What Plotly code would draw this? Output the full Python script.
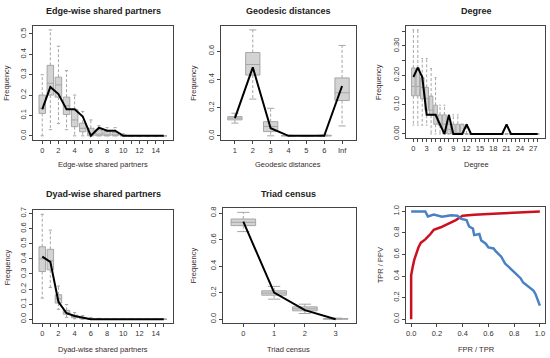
import plotly.graph_objects as go

W, H = 550, 358

# ---------------- data ----------------
# Edge-wise shared partners (0..15)
esp_x = list(range(16))
esp_q1 = [0.11, 0.20, 0.19, 0.105, 0.045, 0.02, 0.0, 0.0, 0.0, 0.0, 0, 0, 0, 0, 0, 0]
esp_med = [0.135, 0.258, 0.25, 0.147, 0.078, 0.037, 0.01, 0.008, 0.004, 0.002, 0, 0, 0, 0, 0, 0]
esp_q3 = [0.20, 0.346, 0.288, 0.19, 0.13, 0.062, 0.037, 0.03, 0.02, 0.016, 0.004, 0, 0, 0, 0, 0]
esp_lo = [0.0, 0.03, 0.06, 0.03, 0.0, 0, 0, 0, 0, 0, 0, 0, 0, 0, 0, 0]
esp_hi = [0.30, 0.52, 0.44, 0.32, 0.20, 0.12, 0.078, 0.05, 0.04, 0.04, 0.01, 0, 0, 0, 0, 0]
esp_obs = [0.13, 0.24, 0.205, 0.13, 0.13, 0.095, 0.0, 0.04, 0.025, 0.025, 0, 0, 0, 0, 0, 0]

# Geodesic distances
geo_labels = ["1", "2", "3", "4", "5", "6", "Inf"]
geo_x = [1, 2, 3, 4, 5, 6, 7]
geo_q1 = [0.113, 0.43, 0.03, 0, 0, 0, 0.25]
geo_med = [0.125, 0.505, 0.066, 0, 0, 0, 0.305]
geo_q3 = [0.136, 0.59, 0.10, 0.002, 0, 0.004, 0.41]
geo_lo = [0.09, 0.26, 0.0, 0, 0, 0, 0.07]
geo_hi = [0.16, 0.75, 0.195, 0.004, 0, 0.006, 0.64]
geo_obs = [0.125, 0.485, 0.054, 0, 0, 0, 0.353]

# Degree (0..28)
deg_x = list(range(29))
deg_q1 = [0.13, 0.13, 0.12, 0.081, 0.064, 0.033, 0.03, 0, 0, 0, 0, 0, 0] + [0] * 16
deg_med = [0.162, 0.162, 0.159, 0.12, 0.081, 0.065, 0.033, 0.033, 0.015, 0, 0, 0, 0] + [0] * 16
deg_q3 = [0.225, 0.225, 0.192, 0.159, 0.129, 0.098, 0.065, 0.065, 0.033, 0.033, 0.033, 0.033, 0.0] + [0] * 16
deg_lo = [0.03, 0.03, 0.03, 0.03, 0, 0, 0, 0, 0, 0, 0, 0, 0] + [0] * 16
deg_hi = [0.355, 0.355, 0.257, 0.257, 0.223, 0.192, 0.098, 0.098, 0.065, 0.065, 0.065, 0.033, 0.033] + [0] * 16
deg_obs = [0.194, 0.226, 0.194, 0.065, 0.065, 0.065, 0.032, 0, 0.065, 0, 0, 0, 0.032, 0,
           0, 0, 0, 0, 0, 0, 0, 0.032, 0, 0, 0, 0, 0, 0, 0]

# Dyad-wise shared partners (0..15)
dsp_x = list(range(16))
dsp_q1 = [0.316, 0.327, 0.107, 0.033, 0.01, 0.003, 0, 0, 0, 0, 0, 0, 0, 0, 0, 0]
dsp_med = [0.40, 0.388, 0.136, 0.045, 0.018, 0.006, 0, 0, 0, 0, 0, 0, 0, 0, 0, 0]
dsp_q3 = [0.48, 0.463, 0.162, 0.059, 0.027, 0.012, 0.004, 0.002, 0, 0, 0, 0, 0, 0, 0, 0]
dsp_lo = [0.14, 0.21, 0.066, 0.013, 0.003, 0, 0, 0, 0, 0, 0, 0, 0, 0, 0, 0]
dsp_hi = [0.695, 0.59, 0.22, 0.097, 0.045, 0.025, 0.012, 0.006, 0, 0, 0, 0, 0, 0, 0, 0]
dsp_obs = [0.415, 0.38, 0.116, 0.04, 0.022, 0.01, 0.0, 0, 0, 0, 0, 0, 0, 0, 0, 0]

# Triad census (0..3)
tri_x = [0, 1, 2, 3]
tri_q1 = [0.705, 0.181, 0.063, 0.0]
tri_med = [0.73, 0.197, 0.078, 0.002]
tri_q3 = [0.755, 0.214, 0.093, 0.005]
tri_lo = [0.66, 0.151, 0.043, 0.0]
tri_hi = [0.805, 0.247, 0.113, 0.008]
tri_obs = [0.735, 0.20, 0.068, 0.0]

# ROC / PR curves
roc_fpr = [0.0, 0.0, 0.013, 0.024, 0.045, 0.058, 0.076, 0.11, 0.15, 0.176, 0.23, 0.295,
           0.347, 0.40, 0.49, 0.676, 0.83, 1.0]
roc_tpr = [0.0, 0.406, 0.49, 0.55, 0.625, 0.67, 0.71, 0.74, 0.79, 0.83, 0.853, 0.89,
           0.92, 0.96, 0.97, 0.98, 0.99, 1.0]
pr_tpr = [0.0, 0.11, 0.13, 0.176, 0.24, 0.31, 0.36, 0.39, 0.43, 0.45, 0.48, 0.49, 0.53,
          0.545, 0.58, 0.60, 0.64, 0.655, 0.70, 0.73, 0.78, 0.82, 0.85, 0.87, 0.91, 0.95,
          0.966, 0.99, 1.0]
pr_ppv = [1.0, 1.0, 0.953, 0.97, 0.95, 0.965, 0.96, 0.93, 0.92, 0.86, 0.84, 0.78, 0.79,
          0.73, 0.70, 0.666, 0.656, 0.634, 0.58, 0.516, 0.46, 0.41, 0.38, 0.34, 0.30, 0.266,
          0.234, 0.156, 0.125]

# ---------------- styling ----------------
FONT = "Liberation Sans, Arial, sans-serif"
BOX_FILL = "#d3d3d3"
BOX_LINE = "#a6a6a6"
WHISK = "#a6a6a6"
AX = "#444444"
TXT = "#333333"
BOXW = 0.8

fig = go.Figure()

# panel frames in pixels: (left, right, top, bottom)
frames = {
    1: (33, 173, 23, 139),
    2: (221, 356, 23, 139),
    3: (406, 545, 23, 137),
    4: (33, 173, 210, 325),
    5: (223, 356, 208, 325),
    6: (406, 545, 207, 325),
}


def rng(lo, hi):
    e = 0.04 * (hi - lo)
    return [lo - e, hi + e]


def add_boxes(k, xs, q1, med, q3, lo, hi):
    xa = "x" if k == 1 else f"x{k}"
    ya = "y" if k == 1 else f"y{k}"
    fig.add_trace(go.Box(
        x=xs, q1=q1, median=med, q3=q3, lowerfence=q1, upperfence=q3,
        width=BOXW, fillcolor=BOX_FILL, line=dict(color=BOX_LINE, width=1),
        boxpoints=False, whiskerwidth=0, xaxis=xa, yaxis=ya, showlegend=False,
        hoverinfo="skip"))
    wx, wy, cx, cy = [], [], [], []
    for x, a, b, l, h in zip(xs, q1, q3, lo, hi):
        if h > b:
            wx += [x, x, None]
            wy += [b, h, None]
        if l < a:
            wx += [x, x, None]
            wy += [a, l, None]
        cw = BOXW / 4
        cx += [x - cw, x + cw, None, x - cw, x + cw, None]
        cy += [h, h, None, l, l, None]
    fig.add_trace(go.Scatter(x=wx, y=wy, mode="lines", xaxis=xa, yaxis=ya,
                             line=dict(color=WHISK, width=1, dash="3px,2px"),
                             showlegend=False, hoverinfo="skip"))
    fig.add_trace(go.Scatter(x=cx, y=cy, mode="lines", xaxis=xa, yaxis=ya,
                             line=dict(color=WHISK, width=1),
                             showlegend=False, hoverinfo="skip"))


def add_obs(k, xs, ys, color="black", width=2):
    xa = "x" if k == 1 else f"x{k}"
    ya = "y" if k == 1 else f"y{k}"
    fig.add_trace(go.Scatter(x=xs, y=ys, mode="lines", xaxis=xa, yaxis=ya,
                             line=dict(color=color, width=width),
                             showlegend=False, hoverinfo="skip"))


add_boxes(1, esp_x, esp_q1, esp_med, esp_q3, esp_lo, esp_hi)
add_obs(1, esp_x, esp_obs)
add_boxes(2, geo_x, geo_q1, geo_med, geo_q3, geo_lo, geo_hi)
add_obs(2, geo_x, geo_obs)
add_boxes(3, deg_x, deg_q1, deg_med, deg_q3, deg_lo, deg_hi)
add_obs(3, deg_x, deg_obs)
add_boxes(4, dsp_x, dsp_q1, dsp_med, dsp_q3, dsp_lo, dsp_hi)
add_obs(4, dsp_x, dsp_obs)
add_boxes(5, tri_x, tri_q1, tri_med, tri_q3, tri_lo, tri_hi)
add_obs(5, tri_x, tri_obs)
add_obs(6, roc_fpr, roc_tpr, color="#cc1020", width=2.5)
add_obs(6, pr_tpr, pr_ppv, color="#4a80c4", width=2.5)


def xr_cat(n, first):
    # R boxplot xlim: positions 1..n -> [0.5, n+0.5] extended 4%
    lo, hi = 0.5, n + 0.5
    e = 0.04 * (hi - lo)
    off = first - 1
    return [lo - e + off, hi + e + off]


axis_common = dict(showline=True, mirror=True, linecolor=AX, linewidth=1,
                   ticks="outside", ticklen=3, tickcolor=AX, tickwidth=1,
                   showgrid=False, zeroline=False,
                   tickfont=dict(family=FONT, size=7.5, color=TXT))

xcfg = {
    1: dict(range=xr_cat(16, 0), tickvals=esp_x,
            ticktext=[str(v) if v % 2 == 0 else "" for v in esp_x]),
    2: dict(range=xr_cat(7, 1), tickvals=geo_x, ticktext=geo_labels),
    3: dict(range=xr_cat(29, 0), tickvals=deg_x,
            ticktext=[str(v) if v % 3 == 0 else "" for v in deg_x]),
    4: dict(range=xr_cat(16, 0), tickvals=dsp_x,
            ticktext=[str(v) if v % 2 == 0 else "" for v in dsp_x]),
    5: dict(range=xr_cat(4, 0), tickvals=tri_x, ticktext=[str(v) for v in tri_x]),
    6: dict(range=rng(0, 1), tickvals=[0, 0.2, 0.4, 0.6, 0.8, 1.0],
            ticktext=["0.0", "0.2", "0.4", "0.6", "0.8", "1.0"]),
}

deg_yt = [0, 0.05, 0.10, 0.15, 0.20, 0.25, 0.30, 0.35]
ycfg = {
    1: dict(range=rng(0, max(esp_hi)), tickvals=[0, 0.1, 0.2, 0.3, 0.4, 0.5],
            ticktext=["0.0", "0.1", "0.2", "0.3", "0.4", "0.5"]),
    2: dict(range=rng(0, max(geo_hi)), tickvals=[0, 0.2, 0.4, 0.6],
            ticktext=["0.0", "0.2", "0.4", "0.6"]),
    3: dict(range=rng(0, max(deg_hi)), tickvals=deg_yt,
            ticktext=["0.00", "", "0.10", "", "0.20", "", "0.30", ""]),
    4: dict(range=rng(0, max(dsp_hi)), tickvals=[0, 0.1, 0.2, 0.3, 0.4, 0.5, 0.6, 0.7],
            ticktext=["0.0", "0.1", "0.2", "0.3", "0.4", "0.5", "0.6", "0.7"]),
    5: dict(range=rng(0, max(tri_hi)), tickvals=[0, 0.2, 0.4, 0.6, 0.8],
            ticktext=["0.0", "0.2", "0.4", "0.6", "0.8"]),
    6: dict(range=rng(0, 1), tickvals=[0, 0.2, 0.4, 0.6, 0.8, 1.0],
            ticktext=["0.0", "0.2", "0.4", "0.6", "0.8", "1.0"]),
}

layout = dict(width=W, height=H, margin=dict(l=0, r=0, t=0, b=0),
              paper_bgcolor="white", plot_bgcolor="white", showlegend=False,
              font=dict(family=FONT, color=TXT))
for k, (l, r, t, b) in frames.items():
    xn = "xaxis" if k == 1 else f"xaxis{k}"
    yn = "yaxis" if k == 1 else f"yaxis{k}"
    xid = "x" if k == 1 else f"x{k}"
    yid = "y" if k == 1 else f"y{k}"
    layout[xn] = dict(domain=[l / W, r / W], anchor=yid, **axis_common, **xcfg[k])
    layout[yn] = dict(domain=[1 - b / H, 1 - t / H], anchor=xid, tickangle=-90,
                      **axis_common, **ycfg[k])

fig.update_layout(**layout)

titles = [
    ("Edge-wise shared partners", 103, 8),
    ("Geodesic distances", 288, 8),
    ("Degree", 476, 8),
    ("Dyad-wise shared partners", 103, 194),
    ("Triad census", 288, 194),
]
xtitles = [
    ("Edge-wise shared partners", 103, 164),
    ("Geodesic distances", 288, 164),
    ("Degree", 476, 164),
    ("Dyad-wise shared partners", 103, 351),
    ("Triad census", 288, 351),
    ("FPR / TPR", 476, 351),
]
ytitles = [
    ("Frequency", 7, 81),
    ("Frequency", 194, 81),
    ("Frequency", 379, 80),
    ("Frequency", 7, 268),
    ("Frequency", 193, 266),
    ("TPR / PPV", 380, 266),
]
ann = []
for txt, x, y in titles:
    ann.append(dict(text=f"<b>{txt}</b>", x=x / W, y=1 - y / H, xref="paper", yref="paper",
                    showarrow=False, xanchor="center", yanchor="middle",
                    font=dict(family=FONT, size=9, color="#222")))
for txt, x, y in xtitles:
    ann.append(dict(text=txt, x=x / W, y=1 - y / H, xref="paper", yref="paper",
                    showarrow=False, xanchor="center", yanchor="middle",
                    font=dict(family=FONT, size=7.5, color="#3a2c2c")))
for txt, x, y in ytitles:
    ann.append(dict(text=txt, x=x / W, y=1 - y / H, xref="paper", yref="paper",
                    showarrow=False, xanchor="center", yanchor="middle", textangle=-90,
                    font=dict(family=FONT, size=7.5, color="#3a2c2c")))
fig.update_layout(annotations=ann)

fig.write_html("out.html", config={"displayModeBar": False},
               post_script="document.body.style.margin='0';document.body.style.overflow='hidden';")
